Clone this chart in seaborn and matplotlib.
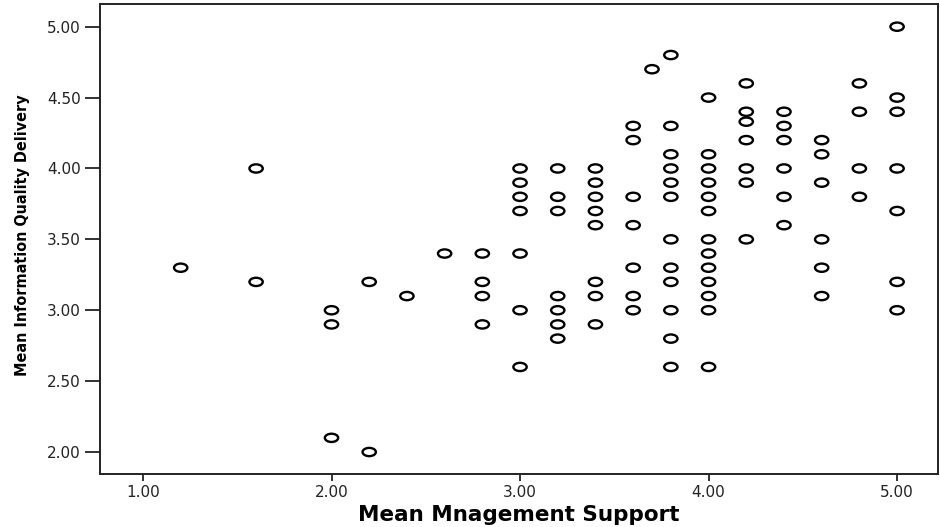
import numpy as np
import pandas as pd
import matplotlib
matplotlib.use("Agg")
import matplotlib.pyplot as plt
from matplotlib.path import Path
from matplotlib.markers import MarkerStyle
import seaborn as sns

# ---- data ----
mgmt_support = [
    1.2,
    1.6, 1.6,
    2.0, 2.0, 2.0,
    2.2, 2.2,
    2.4,
    2.6,
    2.8, 2.8, 2.8, 2.8,
    3.0, 3.0, 3.0, 3.0, 3.0, 3.0, 3.0,
    3.2, 3.2, 3.2, 3.2, 3.2, 3.2, 3.2,
    3.4, 3.4, 3.4, 3.4, 3.4, 3.4, 3.4, 3.4,
    3.6, 3.6, 3.6, 3.6, 3.6, 3.6, 3.6,
    3.7,
    3.8, 3.8, 3.8, 3.8, 3.8, 3.8, 3.8, 3.8, 3.8, 3.8, 3.8, 3.8,
    4.0, 4.0, 4.0, 4.0, 4.0, 4.0, 4.0, 4.0, 4.0, 4.0, 4.0, 4.0, 4.0,
    4.2, 4.2, 4.2, 4.2, 4.2, 4.2, 4.2,
    4.4, 4.4, 4.4, 4.4, 4.4, 4.4,
    4.6, 4.6, 4.6, 4.6, 4.6, 4.6,
    4.8, 4.8, 4.8, 4.8,
    5.0, 5.0, 5.0, 5.0, 5.0, 5.0, 5.0,
]
info_quality = [
    3.3,
    4.0, 3.2,
    3.0, 2.9, 2.1,
    3.2, 2.0,
    3.1,
    3.4,
    3.4, 3.2, 3.1, 2.9,
    4.0, 3.9, 3.8, 3.7, 3.4, 3.0, 2.6,
    4.0, 3.8, 3.7, 3.1, 3.0, 2.9, 2.8,
    4.0, 3.9, 3.8, 3.7, 3.6, 3.2, 3.1, 2.9,
    4.3, 4.2, 3.8, 3.6, 3.3, 3.1, 3.0,
    4.7,
    4.8, 4.3, 4.1, 4.0, 3.9, 3.8, 3.5, 3.3, 3.2, 3.0, 2.8, 2.6,
    4.5, 4.1, 4.0, 3.9, 3.8, 3.7, 3.5, 3.4, 3.3, 3.2, 3.1, 3.0, 2.6,
    4.6, 4.4, 4.33, 4.2, 4.0, 3.9, 3.5,
    4.4, 4.3, 4.2, 4.0, 3.8, 3.6,
    4.2, 4.1, 3.9, 3.5, 3.3, 3.1,
    4.6, 4.4, 4.0, 3.8,
    5.0, 4.5, 4.4, 4.0, 3.7, 3.2, 3.0,
]
x_ticks = [1.0, 2.0, 3.0, 4.0, 5.0]
y_ticks = [2.0, 2.5, 3.0, 3.5, 4.0, 4.5, 5.0]
x_label = "Mean Mnagement Support"
y_label = "Mean Information Quality Delivery"

df = pd.DataFrame({"x": mgmt_support, "y": info_quality})

sns.set_theme(style="white")
plt.rcParams["font.family"] = ["DejaVu Sans"]

fig = plt.figure(figsize=(9.4, 5.27), dpi=100)
ax = fig.add_axes([100 / 940, 53 / 527, 838 / 940, 470 / 527])

# horizontal ellipse marker (like the SPSS open circle)
circ = Path.unit_circle()
verts = circ.vertices.copy()
verts[:, 1] *= 0.62
ellipse = MarkerStyle(Path(verts, circ.codes))

sns.scatterplot(data=df, x="x", y="y", ax=ax, marker=ellipse, s=92,
                color="black", facecolor="none", edgecolor="black",
                linewidth=1.7, legend=False)

ax.set_xlim(0.772, 5.217)
ax.set_ylim(1.845, 5.16)
ax.set_xticks(x_ticks)
ax.set_yticks(y_ticks)
ax.set_xticklabels([f"{v:.2f}" for v in x_ticks])
ax.set_yticklabels([f"{v:.2f}" for v in y_ticks])

ax.tick_params(axis="y", direction="out", length=11, width=1.3, color="#222222",
               labelsize=11, labelcolor="#222222", pad=3, left=True)
ax.tick_params(axis="x", direction="out", length=5, width=1.3, color="#222222",
               labelsize=11, labelcolor="#222222", pad=3, bottom=True)

for sp in ax.spines.values():
    sp.set_visible(True)
    sp.set_color("#222222")
    sp.set_linewidth(1.4)

ax.set_xlabel(x_label, fontsize=15.5, fontweight="bold", color="black")
ax.xaxis.set_label_coords(0.5, -0.066)
ax.set_ylabel(y_label, fontsize=11.5, fontweight="bold", color="black",
              fontstretch="condensed")
ax.yaxis.set_label_coords(-0.083, 0.508)
ax.grid(False)

fig.savefig("out.png", dpi=100)
